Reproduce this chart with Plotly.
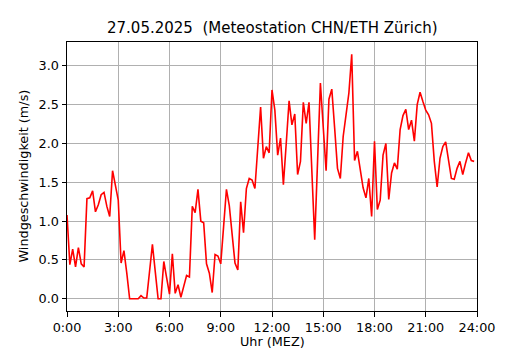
import plotly.graph_objects as go

# Wind speed (m/s), 10-minute values from 0:00 to 23:50
wind = [
    1.08, 0.44, 0.64, 0.41, 0.66, 0.45, 0.41, 1.29, 1.30, 1.39, 1.12, 1.21,
    1.34, 1.37, 1.19, 1.06, 1.65, 1.48, 1.27, 0.46, 0.62, 0.33, 0.00, 0.00,
    0.00, 0.00, 0.04, 0.01, 0.01, 0.38, 0.70, 0.35, 0.00, 0.00, 0.48, 0.27,
    0.06, 0.58, 0.07, 0.18, 0.02, 0.16, 0.30, 0.28, 1.19, 1.11, 1.41, 1.00,
    0.98, 0.45, 0.33, 0.08, 0.57, 0.55, 0.45, 0.93, 1.41, 1.20, 0.85, 0.46,
    0.37, 1.25, 0.85, 1.42, 1.55, 1.53, 1.42, 1.95, 2.47, 1.81, 1.96, 1.88,
    2.69, 2.43, 1.85, 2.07, 1.47, 2.00, 2.55, 2.24, 2.38, 1.60, 1.77, 2.53,
    2.26, 2.53, 1.64, 0.76, 1.77, 2.78, 2.21, 1.65, 2.57, 2.70, 2.20, 1.68,
    1.55, 2.09, 2.37, 2.65, 3.15, 1.78, 1.90, 1.68, 1.43, 1.30, 1.55, 1.06,
    2.03, 1.15, 1.27, 1.85, 2.00, 1.28, 1.62, 1.75, 1.67, 2.18, 2.36, 2.44,
    2.18, 2.30, 2.03, 2.50, 2.66, 2.54, 2.43, 2.37, 2.26, 1.77, 1.44, 1.81,
    1.96, 2.02, 1.79, 1.55, 1.54, 1.68, 1.77, 1.60, 1.75, 1.88, 1.78, 1.77,
]
hours = [i / 6 for i in range(len(wind))]

x_tickvals = [0, 3, 6, 9, 12, 15, 18, 21, 24]
x_ticktext = ["0:00", "3:00", "6:00", "9:00", "12:00", "15:00", "18:00", "21:00", "24:00"]
y_tickvals = [0.0, 0.5, 1.0, 1.5, 2.0, 2.5, 3.0]

title_text = "27.05.2025  (Meteostation CHN/ETH Zürich)"
x_label = "Uhr (MEZ)"
y_label = "Windgeschwindigkeit (m/s)"

font = "DejaVu Sans"
fs = 12.8

fig = go.Figure()
fig.add_trace(go.Scatter(
    x=hours, y=wind, mode="lines",
    line=dict(color="#ff0000", width=1.6),
    hoverinfo="skip", showlegend=False,
))

ymax = max(wind)
ypad = 0.05 * ymax

axis_common = dict(
    showline=True, linecolor="black", linewidth=1, mirror=True,
    ticks="outside", ticklen=4.5, tickwidth=1, tickcolor="black",
    showgrid=True, gridcolor="#b0b0b0", gridwidth=1,
    zeroline=False,
    tickfont=dict(family=font, size=fs, color="black"),
)

fig.update_layout(
    width=530, height=350,
    margin=dict(l=67, r=53, t=42, b=39),
    paper_bgcolor="white", plot_bgcolor="white",
    font=dict(family=font, size=fs, color="black"),
    xaxis=dict(range=[0, 24], tickmode="array", tickvals=x_tickvals,
               ticktext=x_ticktext, **axis_common),
    yaxis=dict(range=[-ypad, ymax + ypad], tickmode="array",
               tickvals=y_tickvals, tickformat=".1f", **axis_common),
    annotations=[
        dict(text=title_text, xref="paper", yref="paper", x=0.5,
             y=(311 - 28) / 269, xanchor="center", yanchor="middle",
             showarrow=False, font=dict(family=font, size=15, color="black")),
        dict(text=x_label, xref="paper", yref="paper", x=0.5,
             y=(311 - 341.5) / 269, xanchor="center", yanchor="middle",
             showarrow=False, font=dict(family=font, size=fs, color="black")),
        dict(text=y_label, xref="paper", yref="paper", x=(23 - 67) / 410,
             y=0.5, xanchor="center", yanchor="middle", textangle=-90,
             showarrow=False, font=dict(family=font, size=fs, color="black")),
    ],
)

fig.write_html("out.html", config={"displayModeBar": False},
               post_script="document.body.style.margin='0';")
